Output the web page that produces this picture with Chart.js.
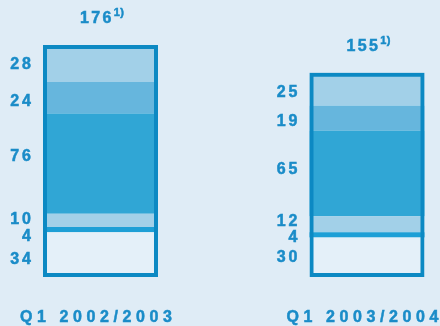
<!DOCTYPE html>
<html>
<head>
<meta charset="utf-8">
<script src="https://cdn.jsdelivr.net/npm/chart.js@4/dist/chart.umd.min.js"></script>
<style>
html, body { margin: 0; padding: 0; background: #dfecf6; }
#wrap { width: 440px; height: 326px; }
</style>
</head>
<body>
<div id="wrap"><canvas id="chart" width="440" height="326"></canvas></div>
<script>
const quarters = ['Q1 2002/2003', 'Q1 2003/2004'];
const totals = [176, 155];
const totalNote = '1)';
// stack segments, bottom to top
const segA = [34, 30];
const segB = [4, 4];
const segC = [10, 12];
const segD = [76, 65];
const segE = [24, 19];
const segF = [28, 25];

(function () {
	const FONT = '"Liberation Sans", Arial, sans-serif';
	const textColor = '#1a8cc8';
	const frameColor = '#0c89c3';
	// vertical nudges for the segment labels (per bar, bottom to top)
	const labelNudge = [
		[3.4, 5.2, -2, -8.6, 2.3, -0.5],
		[-0.7, 1.7, -4.3, -5.2, 1.8, 1.6]
	];

	const spacedWidth = (ctx, text, ls) => {
		let w = 0;
		for (const ch of text) {w += ctx.measureText(ch).width;}
		return w + ls * (text.length - 1);
	};
	const drawSpaced = (ctx, text, x, y, ls) => {
		let end = x;
		for (const ch of text) {
			ctx.fillText(ch, x, y);
			ctx.strokeText(ch, x, y);
			end = x + ctx.measureText(ch).width;
			x = end + ls;
		}
		return end;
	};

	const barLabels = {
		id: 'barLabels',
		afterDatasetsDraw(chart) {
			const ctx = chart.ctx;
			ctx.save();
			ctx.fillStyle = textColor;
			ctx.strokeStyle = textColor;
			ctx.lineWidth = 0.5;
			ctx.textAlign = 'left';
			ctx.textBaseline = 'alphabetic';
			const frame = chart.getDatasetMeta(0).data;
			frame.forEach((bar, i) => {
				const p = bar.getProps(['x', 'y', 'width'], true);

				// total above the bar, with note
				const txt = String(totals[i]);
				ctx.font = 'bold 16px ' + FONT;
				const w1 = spacedWidth(ctx, txt, 2.3);
				ctx.font = 'bold 11px ' + FONT;
				const w2 = spacedWidth(ctx, totalNote, 0.3);
				let x = p.x - (w1 + 2.5 + w2) / 2 + 1.5;
				const base = p.y - 22;
				ctx.font = 'bold 16px ' + FONT;
				x = drawSpaced(ctx, txt, x, base, 2.3) + 2.5;
				ctx.font = 'bold 11px ' + FONT;
				drawSpaced(ctx, totalNote, x, base - 7, 0.3);

				// segment values on the left
				ctx.font = 'bold 16px ' + FONT;
				for (let d = 1; d < chart.data.datasets.length; d++) {
					const el = chart.getDatasetMeta(d).data[i];
					const s = el.getProps(['x', 'y', 'base', 'width'], true);
					const v = String(chart.data.datasets[d].data[i]);
					const mid = (s.y + s.base) / 2 + labelNudge[i][d - 1];
					const right = s.x - s.width / 2 - 12;
					drawSpaced(ctx, v, right - spacedWidth(ctx, v, 3), mid + 5.8, 3);
				}

				// quarter label at the bottom
				const q = quarters[i];
				const wq = spacedWidth(ctx, q, 4.6);
				drawSpaced(ctx, q, p.x - 4.5 - wq / 2, 322, 4.6);
			});
			ctx.restore();
		}
	};

	const common = { borderWidth: 0, clip: false, stack: 'parts' };

	new Chart(document.getElementById('chart'), {
		type: 'bar',
		data: {
			labels: quarters,
			datasets: [
				{ label: 'total', data: totals, stack: 'frame', order: -1, clip: false,
					backgroundColor: 'rgba(0,0,0,0)', borderColor: frameColor, borderWidth: 4, borderSkipped: false },
				Object.assign({ label: 'a', data: segA, backgroundColor: '#e4f0f9' }, common),
				Object.assign({ label: 'b', data: segB, backgroundColor: '#1d9fd6' }, common),
				Object.assign({ label: 'c', data: segC, backgroundColor: '#a2d0e8' }, common),
				Object.assign({ label: 'd', data: segD, backgroundColor: '#30a6d5' }, common),
				Object.assign({ label: 'e', data: segE, backgroundColor: '#66b6dd' }, common),
				Object.assign({ label: 'f', data: segF, backgroundColor: '#a2d0e8' }, common)
			]
		},
		options: {
			responsive: false,
			animation: false,
			layout: { padding: { left: 100.5, right: 73, top: 45, bottom: 49 } },
			datasets: { bar: { grouped: false, maxBarThickness: 115 } },
			plugins: { legend: { display: false }, tooltip: { enabled: false } },
			scales: {
				x: { display: false, offset: false },
				y: { display: false, stacked: true, min: 0, max: Math.max(...totals) }
			}
		},
		plugins: [barLabels]
	});
})();
</script>
</body>
</html>
